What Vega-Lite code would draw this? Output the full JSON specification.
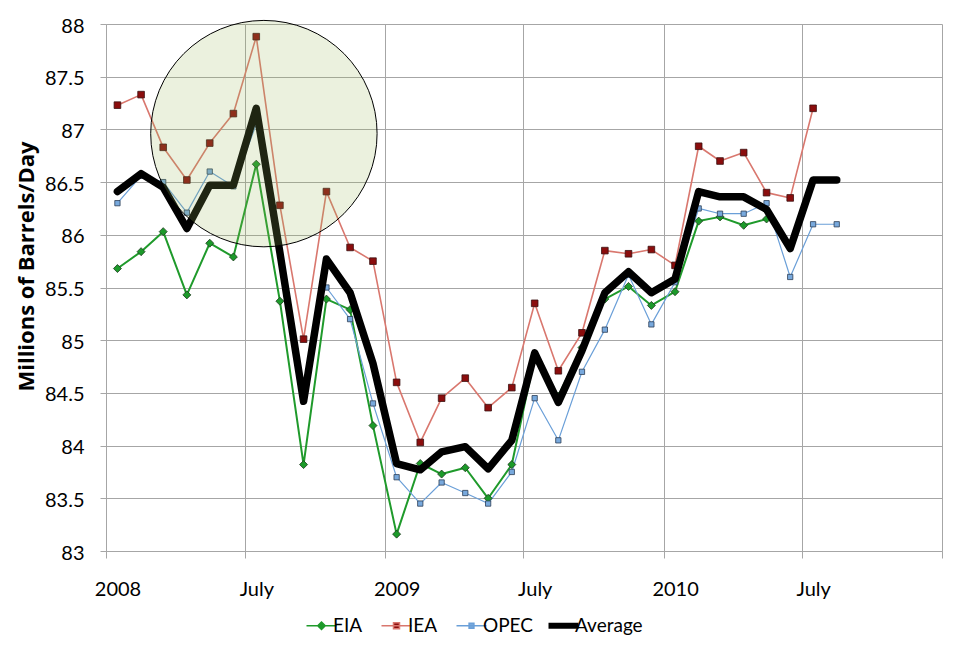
{
  "$schema": "https://vega.github.io/schema/vega-lite/v6.json",
  "width": 836,
  "height": 527,
  "autosize": {"type": "none"},
  "padding": {"left": 106, "top": 24, "right": 14, "bottom": 100},
  "background": "white",
  "config": {
    "view": {"stroke": null},
    "font": "Lato",
    "axis": {
      "grid": true,
      "gridColor": "#a6a6a6",
      "gridWidth": 1,
      "tickColor": "#a6a6a6",
      "domainColor": "#a6a6a6",
      "labelFont": "Lato",
      "labelFontSize": 20,
      "labelColor": "#000000",
      "titleFont": "Lato",
      "titleColor": "#000000"
    }
  },
  "datasets": {
    "supply": [
      {"date": "2008-01-16", "EIA": 85.68, "IEA": 87.23, "OPEC": 86.30, "Average": 86.41},
      {"date": "2008-02-16", "EIA": 85.84, "IEA": 87.33, "OPEC": 86.56, "Average": 86.58},
      {"date": "2008-03-16", "EIA": 86.03, "IEA": 86.83, "OPEC": 86.50, "Average": 86.45},
      {"date": "2008-04-16", "EIA": 85.43, "IEA": 86.52, "OPEC": 86.21, "Average": 86.06},
      {"date": "2008-05-16", "EIA": 85.92, "IEA": 86.87, "OPEC": 86.60, "Average": 86.47},
      {"date": "2008-06-16", "EIA": 85.79, "IEA": 87.15, "OPEC": 86.46, "Average": 86.47},
      {"date": "2008-07-16", "EIA": 86.67, "IEA": 87.88, "OPEC": 87.05, "Average": 87.20},
      {"date": "2008-08-16", "EIA": 85.37, "IEA": 86.28, "OPEC": null, "Average": 85.83},
      {"date": "2008-09-16", "EIA": 83.82, "IEA": 85.01, "OPEC": null, "Average": 84.42},
      {"date": "2008-10-16", "EIA": 85.39, "IEA": 86.41, "OPEC": 85.50, "Average": 85.77},
      {"date": "2008-11-16", "EIA": 85.29, "IEA": 85.88, "OPEC": 85.20, "Average": 85.45},
      {"date": "2008-12-16", "EIA": 84.19, "IEA": 85.75, "OPEC": 84.40, "Average": 84.78},
      {"date": "2009-01-16", "EIA": 83.16, "IEA": 84.60, "OPEC": 83.70, "Average": 83.83},
      {"date": "2009-02-16", "EIA": 83.83, "IEA": 84.03, "OPEC": 83.45, "Average": 83.77},
      {"date": "2009-03-16", "EIA": 83.73, "IEA": 84.45, "OPEC": 83.65, "Average": 83.94},
      {"date": "2009-04-16", "EIA": 83.79, "IEA": 84.64, "OPEC": 83.55, "Average": 83.99},
      {"date": "2009-05-16", "EIA": 83.50, "IEA": 84.36, "OPEC": 83.45, "Average": 83.78},
      {"date": "2009-06-16", "EIA": 83.82, "IEA": 84.55, "OPEC": 83.75, "Average": 84.05},
      {"date": "2009-07-16", "EIA": 84.84, "IEA": 85.35, "OPEC": 84.45, "Average": 84.88},
      {"date": "2009-08-16", "EIA": 84.47, "IEA": 84.71, "OPEC": 84.05, "Average": 84.41},
      {"date": "2009-09-16", "EIA": 84.93, "IEA": 85.07, "OPEC": 84.70, "Average": 84.90},
      {"date": "2009-10-16", "EIA": 85.39, "IEA": 85.85, "OPEC": 85.10, "Average": 85.45},
      {"date": "2009-11-16", "EIA": 85.51, "IEA": 85.82, "OPEC": 85.62, "Average": 85.65},
      {"date": "2009-12-16", "EIA": 85.33, "IEA": 85.86, "OPEC": 85.15, "Average": 85.45},
      {"date": "2010-01-16", "EIA": 85.46, "IEA": 85.71, "OPEC": 85.55, "Average": 85.58},
      {"date": "2010-02-16", "EIA": 86.13, "IEA": 86.84, "OPEC": 86.25, "Average": 86.41},
      {"date": "2010-03-16", "EIA": 86.17, "IEA": 86.70, "OPEC": 86.20, "Average": 86.36},
      {"date": "2010-04-16", "EIA": 86.09, "IEA": 86.78, "OPEC": 86.20, "Average": 86.36},
      {"date": "2010-05-16", "EIA": 86.15, "IEA": 86.40, "OPEC": 86.30, "Average": 86.24},
      {"date": "2010-06-16", "EIA": null, "IEA": 86.35, "OPEC": 85.60, "Average": 85.87},
      {"date": "2010-07-16", "EIA": null, "IEA": 87.20, "OPEC": 86.10, "Average": 86.52},
      {"date": "2010-08-16", "EIA": null, "IEA": null, "OPEC": 86.10, "Average": 86.52}
    ],
    "highlight": [
      {"date": "2008-07-26", "value": 86.96}
    ]
  },
  "encoding": {
    "x": {
      "field": "date",
      "type": "temporal",
      "scale": {
        "type": "utc",
        "domain": [
          {"year": 2008, "month": 1, "date": 1, "utc": true},
          {"year": 2011, "month": 1, "date": 1, "utc": true}
        ]
      },
      "axis": {
        "title": null,
        "values": [
          {"year": 2008, "month": 1, "date": 1, "utc": true},
          {"year": 2008, "month": 7, "date": 1, "utc": true},
          {"year": 2009, "month": 1, "date": 1, "utc": true},
          {"year": 2009, "month": 7, "date": 1, "utc": true},
          {"year": 2010, "month": 1, "date": 1, "utc": true},
          {"year": 2010, "month": 7, "date": 1, "utc": true},
          {"year": 2011, "month": 1, "date": 1, "utc": true}
        ],
        "labelExpr": "utcyear(datum.value) == 2011 ? '' : (utcmonth(datum.value) == 0 ? '' + utcyear(datum.value) : 'July')",
        "tickSize": 7,
        "labelOffset": 11.5,
        "labelFlush": false,
        "labelOverlap": false,
        "labelBound": false,
        "labelAlign": "center",
        "labelBaseline": "alphabetic",
        "labelPadding": 37
      }
    },
    "y": {
      "field": "value",
      "type": "quantitative",
      "scale": {"domain": [83, 88], "nice": false, "zero": false},
      "axis": {
        "title": "Millions of Barrels/Day",
        "values": [83, 83.5, 84, 84.5, 85, 85.5, 86, 86.5, 87, 87.5, 88],
        "format": ".1~f",
        "tickSize": 6,
        "labelPadding": 16,
        "labelBaseline": "middle",
        "labelOffset": 2,
        "titleFont": "Open Sans",
        "titleFontSize": 22,
        "titleFontWeight": "bold",
        "titleAngle": 270,
        "titleAlign": "center",
        "titleBaseline": "alphabetic",
        "titleX": -73,
        "titleY": 242
      }
    }
  },
  "layer": [
    {
      "data": {"name": "supply"},
      "transform": [
        {"fold": ["EIA", "IEA", "OPEC", "Average"], "as": ["series", "value"]},
        {"filter": "datum.series !== 'Average'"}
      ],
      "mark": {"type": "line", "invalid": "break-paths-show-domains", "strokeJoin": "round"},
      "encoding": {
        "stroke": {
          "field": "series",
          "type": "nominal",
          "scale": {"domain": ["EIA", "IEA", "OPEC", "Average"], "range": ["#1f9a2b", "#d9776e", "#6a9fd8", "#000000"]},
          "legend": {
            "title": null,
            "orient": "none",
            "legendX": 206,
            "legendY": 592,
            "direction": "horizontal",
            "symbolSize": 900,
            "symbolStrokeWidth": 1.5,
            "labelFont": "Lato",
            "labelFontSize": 19,
            "labelColor": "#000000",
            "labelOffset": 2,
            "columnPadding": 15,
            "padding": 0,
            "encode": {
              "symbols": {
                "update": {
                  "shape": {"signal": "datum.value === 'EIA' ? 'M-1,0H1M0,-0.25L0.25,0L0,0.25L-0.25,0Z' : datum.value === 'IEA' ? 'M-1,0H1M-0.2,-0.2H0.2V0.2H-0.2Z' : datum.value === 'OPEC' ? 'M-1,0H1M-0.16,-0.16H0.16V0.16H-0.16Z' : 'M-1,-0.2H1V0.2H-1Z'"},
                  "fill": {"signal": "datum.value === 'EIA' ? '#1c9a2a' : datum.value === 'IEA' ? '#8b0d0d' : datum.value === 'OPEC' ? '#78a9dd' : '#000000'"},
                  "strokeWidth": {"signal": "datum.value === 'Average' ? 0 : 1.5"},
                  "opacity": {"value": 1}
                }
              }
            }
          }
        },
        "strokeWidth": {
          "field": "series",
          "type": "nominal",
          "scale": {"domain": ["EIA", "IEA", "OPEC"], "range": [2, 1.2, 1.2]},
          "legend": null
        }
      }
    },
    {
      "data": {"name": "supply"},
      "transform": [
        {"fold": ["EIA", "IEA", "OPEC", "Average"], "as": ["series", "value"]},
        {"filter": "datum.series === 'EIA' && isValid(datum.value)"}
      ],
      "mark": {"type": "point", "shape": "diamond", "filled": true, "opacity": 1, "fill": "#1c9a2a", "stroke": "#1c3a1c", "strokeWidth": 0.8, "size": 64}
    },
    {
      "data": {"name": "supply"},
      "transform": [
        {"fold": ["EIA", "IEA", "OPEC", "Average"], "as": ["series", "value"]},
        {"filter": "datum.series === 'IEA' && isValid(datum.value)"}
      ],
      "mark": {"type": "point", "shape": "square", "filled": true, "opacity": 1, "fill": "#8b0d0d", "stroke": "#3a1010", "strokeWidth": 0.8, "size": 44}
    },
    {
      "data": {"name": "supply"},
      "transform": [
        {"fold": ["EIA", "IEA", "OPEC", "Average"], "as": ["series", "value"]},
        {"filter": "datum.series === 'OPEC' && isValid(datum.value)"}
      ],
      "mark": {"type": "point", "shape": "square", "filled": true, "opacity": 1, "fill": "#78a9dd", "stroke": "#2c3e55", "strokeWidth": 0.8, "size": 28}
    },
    {
      "data": {"name": "supply"},
      "transform": [
        {"fold": ["EIA", "IEA", "OPEC", "Average"], "as": ["series", "value"]},
        {"filter": "datum.series === 'Average'"}
      ],
      "mark": {"type": "line", "color": "#000000", "strokeWidth": 7.5, "strokeJoin": "round", "strokeCap": "round"},
      "encoding": {}
    },
    {
      "data": {"name": "highlight"},
      "mark": {"type": "point", "shape": "circle", "filled": true, "size": 51256, "opacity": 1, "fill": "#9bbb59", "fillOpacity": 0.2, "stroke": "#000000", "strokeOpacity": 1, "strokeWidth": 1, "clip": false}
    }
  ]
}
